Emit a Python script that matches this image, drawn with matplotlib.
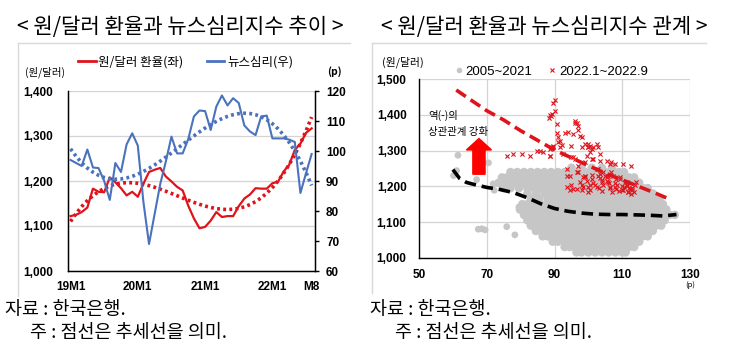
import numpy as np
import matplotlib
matplotlib.use('Agg')
import matplotlib.pyplot as plt
from matplotlib.lines import Line2D
from matplotlib.patches import FancyArrow

plt.rcParams['font.family'] = ['Noto Sans CJK KR', 'DejaVu Sans']

# ---------------- data: left chart ----------------
month_idx = list(range(44))            # 2019.1 ~ 2022.8
xtick_pos = [0, 12, 24, 36, 43]
xtick_labels = ['19M1', '20M1', '21M1', '22M1', 'M8']
krw = [1122, 1125, 1131, 1141, 1183, 1176, 1175, 1208, 1197, 1184, 1168, 1176,
       1165, 1194, 1220, 1225, 1229, 1210, 1199, 1187, 1179, 1145, 1117, 1095,
       1098, 1112, 1131, 1120, 1122, 1122, 1144, 1161, 1170, 1184, 1183, 1183,
       1195, 1198, 1221, 1236, 1269, 1283, 1307, 1317]
nsi = [97, 96, 95, 100.5, 94.5, 94.3, 90, 83.7, 96, 93,
       102.2, 105.9, 101.8, 83, 69, 79, 89, 96.5, 104.8, 99.2,
       99.2, 104, 111.5, 113.5, 113.3, 107, 114.8, 118.5, 115.2, 117.6,
       116, 108.5, 106.5, 105.3, 111.5, 111.8, 104.2, 104.2, 104.2, 103.8,
       103, 86, 92.6, 99]
left_yticks = [1000, 1100, 1200, 1300, 1400]
left_ylabels = ['1,000', '1,100', '1,200', '1,300', '1,400']
right_yticks = [60, 70, 80, 90, 100, 110, 120]

# ---------------- data: right chart ----------------
gray_row_y = [1252, 1240, 1225, 1210, 1195, 1180, 1165, 1150, 1135, 1120,
              1105, 1090, 1075, 1060, 1045, 1030, 1015]
gray_row_x = [
    [95, 98, 101, 104, 107],
    [77, 79, 81, 83, 85, 87, 89, 91, 93, 95, 97, 99, 101, 103, 105, 107, 109, 110.5],
    [74.5, 76, 78, 80, 82, 84, 86, 88, 90, 92, 94, 96, 98, 100, 102, 104, 106, 108, 110, 112, 113.5],
    [73.5, 75, 77, 79, 81, 83, 85, 87, 89, 91, 93, 95, 97, 99, 101, 103, 105, 107, 109, 111, 113, 115],
    [75, 77, 79.5, 82, 84, 86, 88, 90, 92, 94, 96, 98, 100, 102, 104, 106, 108, 110, 112, 114, 116, 117.5],
    [82, 84.5, 87, 89, 91, 93, 95, 97, 99, 101, 103, 105, 107, 109, 111, 113, 115, 117, 119],
    [83, 85.5, 88, 90, 92, 94, 96, 98, 100, 102, 104, 106, 108, 110, 112, 114, 116, 118, 120, 121],
    [80.5, 82, 84, 86, 88, 90, 92, 94, 96, 98, 100, 102, 104, 106, 108, 110, 112, 114, 116, 118, 120, 122],
    [79.8, 81, 83, 85, 87, 89, 91, 93, 95, 97, 99, 101, 103, 105, 107, 109, 111, 113, 115, 117, 119, 121, 123],
    [81, 82.5, 84, 86, 88, 90, 92, 94, 96, 98, 100, 102, 104, 106, 108, 110, 112, 114, 116, 118, 120, 122, 124, 125.5],
    [82, 83.5, 85, 87, 89, 91, 93, 95, 97, 99, 101, 103, 105, 107, 109, 111, 113, 115, 117, 119, 121, 122.5],
    [83, 84.5, 86, 88, 90, 92, 94, 96, 98, 100, 102, 104, 106, 108, 110, 112, 114, 116, 118, 120, 121.5],
    [84.5, 86, 87.5, 89, 91, 93, 95, 97, 99, 101, 103, 105, 107, 109, 111, 113, 115, 117, 119],
    [86.5, 88, 90, 92, 94, 96, 98, 100, 102, 104, 106, 108, 110, 112, 114, 116, 117.5],
    [89.5, 91, 93, 95, 97, 99, 101, 103, 105, 107, 109, 111, 113, 115],
    [93, 94.5, 96, 98, 100, 102, 104, 106, 108, 110, 112, 113.5],
    [96.5, 98, 100, 102, 104, 106, 108, 110, 111],
]
gray_iso_x = [61.5, 60.2, 61.1, 67.0, 70.5, 71.9, 72.2, 67.5, 69.5, 68.5, 75.9, 78.3, 79.5]
gray_iso_y = [1287, 1230, 1244, 1219, 1266, 1207, 1189, 1080, 1078, 1081, 1087, 1064, 1142]

red_x = [88.6, 89.0, 88.3, 89.2, 89.6, 90.1, 90.1, 90.6, 91.1, 91.6, 89.1, 88.6, 89.6, 91.6, 88.6, 92.6,
         94.1, 95.5, 96.0, 96.5, 97.0, 97.5, 99.0, 100.0, 100.5, 101.4, 102.9, 95.0, 96.0, 97.0,
         98.0, 99.5, 101.0, 102.9, 105.4, 106.8, 107.8, 110.3, 112.7, 106.8, 104.9, 105.9, 108.3,
         110.8, 112.2, 112.7, 109.8, 107.8, 103.9, 101.9, 100.0, 98.0, 96.5, 94.5, 93.6, 97.0, 99.0,
         101.0, 102.9, 104.4, 105.9, 109.3, 111.3, 113.7, 111.8,
         75.9, 77.8, 80.3, 82.8, 84.7, 85.7, 86.5, 88.6, 89.6, 91.1, 92.1, 95.0, 95.5, 99.0, 100.0,
         100.5, 102.4, 103.4, 101.4, 103.4, 106.3, 93.6, 94.5, 96.5, 98.5, 102.4, 103.4, 105.4,
         107.3, 109.3, 111.3, 93.6, 95.5, 98.5, 100.5, 102.4, 104.4, 106.3, 108.3, 110.3, 111.8,
         90.6, 93.0, 96.0, 97.0, 98.0, 100.0, 101.0, 114.2, 112.8, 98.0, 100.0, 104.0, 107.0, 113.5,
         99.5, 101.5, 104.0, 106.0, 108.5, 110.0, 112.0, 95.0, 97.5, 100.5, 103.0, 105.5, 108.0,
         110.5, 113.0, 99.0, 101.0, 103.5, 106.5, 109.0, 111.5]
red_y = [1400, 1396, 1392, 1404, 1433, 1442, 1411, 1374, 1337, 1328, 1309, 1304, 1312, 1309, 1286, 1291,
         1351, 1347, 1384, 1378, 1370, 1342, 1319, 1309, 1313, 1309, 1309, 1282, 1277, 1258,
         1309, 1286, 1277, 1249, 1272, 1268, 1263, 1263, 1257, 1240, 1230, 1212, 1221,
         1212, 1193, 1179, 1189, 1198, 1212, 1203, 1198, 1203, 1193, 1189, 1230, 1240, 1230,
         1221, 1230, 1240, 1230, 1226, 1203, 1203, 1184,
         1286, 1291, 1291, 1286, 1300, 1300, 1297, 1286, 1309, 1323, 1317, 1314, 1282, 1268, 1309,
         1295, 1319, 1291, 1277, 1272, 1263, 1249, 1230, 1240, 1226, 1249, 1235, 1226,
         1230, 1221, 1212, 1198, 1193, 1198, 1203, 1198, 1203, 1198, 1193, 1189, 1184,
         1349, 1349, 1377, 1358, 1339, 1320, 1306, 1213, 1194, 1190, 1185, 1186, 1183, 1185,
         1215, 1210, 1218, 1208, 1205, 1200, 1196, 1205, 1212, 1190, 1195, 1215, 1210,
         1198, 1190, 1225, 1232, 1222, 1195, 1188, 1200]

red_trend_x = [61, 65, 70, 75, 80, 85, 90, 95, 100, 105, 110, 115, 120, 123]
red_trend_y = [1470, 1444, 1412, 1386, 1356, 1329, 1302, 1280, 1258, 1237, 1218, 1199, 1180, 1168]
blk_trend_x = [60, 62, 64, 66, 70, 74, 78, 82, 86, 90, 94, 98, 102, 106, 110, 114, 118, 122, 126]
blk_trend_y = [1247, 1222, 1211, 1206, 1197, 1191, 1182, 1168, 1151, 1138, 1130, 1125, 1122, 1121,
               1121, 1120, 1119, 1117, 1121]
rx_ticks = [50, 70, 90, 110, 130]
ry_ticks = [1000, 1100, 1200, 1300, 1400, 1500]
ry_labels = ['1,000', '1,100', '1,200', '1,300', '1,400', '1,500']

# ---------------- style ----------------
RED = '#e0131b'
BLUE = '#4a72bd'
GRAY = '#c6c6c6'
GRID = '#d4d4d4'
FRAME = '#d9d9d9'
NUMFONT = dict(family='Liberation Sans', weight='bold', size=8.5)

W, H = 730, 355
fig = plt.figure(figsize=(7.3, 3.55), dpi=100)


def rect(l, t, r, b):
    return [l / W, 1 - b / H, (r - l) / W, (b - t) / H]


def fx(px):
    return px / W


def fy(py):
    return 1 - py / H


# frames (decorative light-gray L shapes)
for (x0, x1, yl, yb) in [(18, 350, 42.5, 296), (372, 706, 42.5, 293)]:
    fig.add_artist(Line2D([fx(x0), fx(x1)], [fy(yl), fy(yl)], color=FRAME, lw=1))
    fig.add_artist(Line2D([fx(x0), fx(x0)], [fy(yl), fy(yb)], color=FRAME, lw=1))

# titles
fig.text(fx(17), fy(27), '< 원/달러 환율과 뉴스심리지수 추이 >', fontsize=15.2, va='center', ha='left')
fig.text(fx(381), fy(27), '< 원/달러 환율과 뉴스심리지수 관계 >', fontsize=15.2, va='center', ha='left')

# ---------------- left chart ----------------
ax1 = fig.add_axes(rect(68, 91, 315, 271))
ax1.set_xlim(-0.45, 43.6)
ax1.set_ylim(1000, 1400)
ax1.set_yticks(left_yticks)
ax1.set_yticklabels(left_ylabels, **NUMFONT)
ax1.set_xticks(xtick_pos)
ax1.set_xticklabels(xtick_labels, **NUMFONT)
ax1.tick_params(axis='y', length=0, pad=11)
ax1.tick_params(axis='x', length=0, pad=7)
ax1.grid(axis='y', color=GRID, lw=0.9)
ax1.set_axisbelow(True)
ax1.spines['top'].set_visible(False)
for s in ['left', 'bottom', 'right']:
    ax1.spines[s].set_color('black')
    ax1.spines[s].set_linewidth(1.0)

ax2 = ax1.twinx()
ax2.set_ylim(60, 120)
ax2.set_yticks(right_yticks)
ax2.set_yticklabels([str(v) for v in right_yticks], **NUMFONT)
ax2.tick_params(axis='y', length=3, width=1, pad=5, direction='out')
ax2.spines['top'].set_visible(False)

idx = np.array(month_idx)
krw_trend = np.polyval(np.polyfit(idx, krw, 3), idx)
nsi_trend = np.polyval(np.polyfit(idx, nsi, 3), idx)

ax1.plot(idx, krw, color=RED, lw=1.6, zorder=3)
ax1.plot(idx, krw_trend, color=RED, lw=2.6, ls=(0, (0.8, 0.9)), zorder=3)
ax2.plot(idx, nsi, color=BLUE, lw=1.5, zorder=3)
ax2.plot(idx, nsi_trend, color=BLUE, lw=2.6, ls=(0, (0.8, 0.9)), zorder=3)

fig.text(fx(25), fy(72), '(원/달러)', fontsize=7.5, va='center', ha='left')
fig.text(fx(327), fy(72), '(p)', fontsize=7.5, va='center', ha='left', fontweight='bold')

fig.legend([Line2D([], [], color=RED, lw=2), Line2D([], [], color=BLUE, lw=2)],
           ['원/달러 환율(좌)', '뉴스심리(우)'], ncol=2, frameon=False,
           loc='center left', bbox_to_anchor=(fx(78), fy(62)), borderaxespad=0, borderpad=0,
           fontsize=9, handlelength=1.4, handletextpad=0.2, columnspacing=1.9)

# ---------------- right chart ----------------
ax3 = fig.add_axes(rect(419, 79.3, 690, 257.7))
ax3.set_xlim(50, 130)
ax3.set_ylim(1000, 1500)
ax3.set_xticks(rx_ticks)
ax3.set_xticklabels([str(v) for v in rx_ticks], **NUMFONT)
ax3.set_yticks(ry_ticks)
ax3.set_yticklabels(ry_labels, **NUMFONT)
ax3.tick_params(axis='both', length=0)
ax3.tick_params(axis='y', pad=9)
ax3.tick_params(axis='x', pad=8)
ax3.grid(True, color=GRID, lw=0.9)
ax3.set_axisbelow(True)
ax3.spines['top'].set_visible(False)
ax3.spines['right'].set_visible(False)
for s in ['left', 'bottom']:
    ax3.spines[s].set_color('black')
    ax3.spines[s].set_linewidth(1.0)

gx, gy = [], []
for yv, xs in zip(gray_row_y, gray_row_x):
    gx.extend(xs)
    gy.extend([yv] * len(xs))
ax3.scatter(gx, gy, s=38, color=GRAY, edgecolors='none', zorder=2)
ax3.scatter(gray_iso_x, gray_iso_y, s=24, color=GRAY, edgecolors='none', zorder=2)
ax3.scatter(red_x, red_y, s=9, marker='x', color=RED, linewidths=0.8, zorder=3)
ax3.plot(blk_trend_x, blk_trend_y, color='black', lw=2.6, ls=(0, (3.2, 1.6)), zorder=4)
ax3.plot(red_trend_x, red_trend_y, color=RED, lw=2.6, ls=(0, (3.2, 1.6)), zorder=4)

ax3.add_patch(FancyArrow(67.7, 1234, 0, 100, width=3.6, head_width=7.4, head_length=32,
                         length_includes_head=True, color='#ff0000', zorder=5))
ax3.text(52.7, 1400, '역(-)의', fontsize=7.5, va='center', ha='left')
ax3.text(52.7, 1351, '상관관계 강화', fontsize=7.5, va='center', ha='left')

fig.text(fx(382), fy(62), '(원/달러)', fontsize=7.8, va='center', ha='left')
fig.text(fx(690), fy(285), '(p)', fontsize=5.5, va='center', ha='center')

fig.legend([Line2D([], [], ls='', marker='o', ms=3, color=GRAY),
            Line2D([], [], ls='', marker='x', ms=3, mew=0.8, color=RED)],
           ['2005~2021', '2022.1~2022.9'], ncol=2, frameon=False,
           loc='center left', bbox_to_anchor=(fx(455), fy(71.5)), borderaxespad=0, borderpad=0,
           prop=dict(family='Liberation Sans', size=9.5), handlelength=0.6,
           handletextpad=0.2, columnspacing=1.2)

# ---------------- notes ----------------
for x0 in (5, 370):
    fig.text(fx(x0), fy(310), '자료 : 한국은행.', fontsize=13.3, va='center', ha='left')
    fig.text(fx(x0 + 25), fy(333), '주 : 점선은 추세선을 의미.', fontsize=13.3, va='center', ha='left')

fig.savefig('out.png', dpi=100)
